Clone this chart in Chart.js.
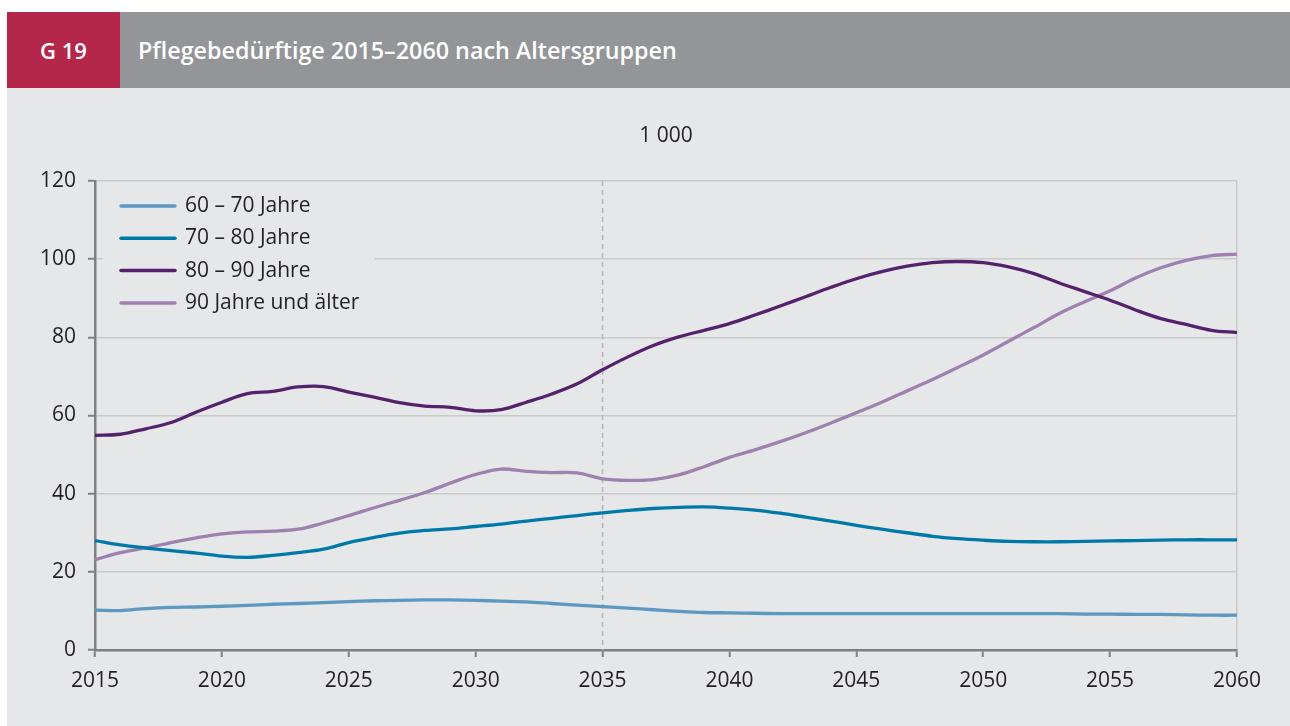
<!DOCTYPE html>
<html>
<head>
<meta charset="utf-8">
<script src="https://cdn.jsdelivr.net/npm/chart.js@4/dist/chart.umd.min.js"></script>
<style>
  html, body { margin:0; padding:0; background:#ffffff; width:1290px; height:726px; overflow:hidden; font-family:"Open Sans", "Noto Sans", sans-serif; }
  #hdrNum { position:absolute; left:7px; top:12px; width:113px; height:76px; background:#b5264b; color:#fff; font-size:22px; font-weight:600; line-height:76px; text-align:center; }
  #hdrTitle { position:absolute; left:120px; top:12px; width:1170px; height:76px; background:#939598; color:#fff; font-size:23.3px; font-weight:600; line-height:76px; padding-left:18px; box-sizing:border-box; }
  #panel { position:absolute; left:7px; top:88px; width:1283px; height:638px; background:#e6e7e9; }
  canvas { display:block; }
</style>
</head>
<body>
<div id="hdrNum">G 19</div>
<div id="hdrTitle">Pflegebedürftige 2015–2060 nach Altersgruppen</div>
<div id="panel"><canvas id="c" width="1283" height="638"></canvas></div>
<script>
// ---- data ----
const years = [2015,2016,2017,2018,2019,2020,2021,2022,2023,2024,2025,2026,2027,2028,2029,2030,2031,2032,2033,2034,2035,2036,2037,2038,2039,2040,2041,2042,2043,2044,2045,2046,2047,2048,2049,2050,2051,2052,2053,2054,2055,2056,2057,2058,2059,2060];
const age60to70 = [10.2,10.1,10.6,10.9,11.0,11.2,11.4,11.7,11.9,12.1,12.4,12.6,12.7,12.8,12.8,12.7,12.5,12.3,11.9,11.5,11.1,10.7,10.3,9.9,9.6,9.5,9.4,9.3,9.3,9.3,9.3,9.3,9.3,9.3,9.3,9.3,9.3,9.3,9.3,9.2,9.2,9.1,9.1,9.0,8.9,8.9];
const age70to80 = [28.0,26.9,26.1,25.4,24.8,24.0,23.7,24.2,24.9,25.8,27.5,28.8,29.9,30.6,31.0,31.6,32.2,33.0,33.7,34.4,35.1,35.7,36.2,36.5,36.6,36.3,35.8,35.0,34.0,33.0,31.9,30.9,30.0,29.1,28.5,28.1,27.8,27.7,27.7,27.8,27.9,28.0,28.1,28.2,28.2,28.2];
const age80to90 = [54.9,55.2,56.6,58.2,60.9,63.4,65.6,66.2,67.3,67.4,66.0,64.7,63.3,62.4,62.1,61.2,61.5,63.4,65.5,68.1,71.7,75.0,77.9,80.1,81.8,83.5,85.7,88.0,90.4,92.8,95.0,96.8,98.2,99.1,99.4,99.1,98.0,96.3,93.9,91.7,89.5,87.0,84.8,83.3,81.8,81.2];
const age90plus = [23.1,24.9,26.1,27.5,28.7,29.7,30.2,30.4,30.9,32.5,34.4,36.4,38.3,40.3,42.7,44.9,46.3,45.7,45.4,45.3,43.8,43.4,43.6,44.8,46.9,49.3,51.2,53.3,55.6,58.1,60.7,63.4,66.3,69.2,72.3,75.5,79.0,82.5,86.1,89.1,91.9,95.2,97.8,99.7,100.9,101.3];
const seriesNames = ["60 – 70 Jahre","70 – 80 Jahre","80 – 90 Jahre","90 Jahre und älter"];
const seriesColors = ["#5b98c2","#0079a9","#55206c","#9e80b1"];
const unitLabel = "1 000";
const markerYear = 2035;
const xTicks = [2015,2020,2025,2030,2035,2040,2045,2050,2055,2060];
const yTicks = [0,20,40,60,80,100,120];

const allSeries = [age60to70, age70to80, age80to90, age90plus];
const FONT = '"Open Sans", "Noto Sans", sans-serif';
const TEXT = '#231f20';

const datasets = allSeries.map((vals, i) => ({
  label: seriesNames[i],
  data: years.map((y, k) => ({x: y, y: vals[k]})),
  borderColor: seriesColors[i],
  backgroundColor: seriesColors[i],
  borderWidth: 3.3,
  pointRadius: 0,
  tension: 0.35,
  fill: false
}));

const overlay = {
  id: 'overlay',
  beforeDatasetsDraw(chart) {
    const {ctx, chartArea, scales} = chart;
    const x = scales.x.getPixelForValue(markerYear);
    ctx.save();
    ctx.strokeStyle = '#b4b5b8';
    ctx.lineWidth = 1.5;
    ctx.setLineDash([5, 4]);
    ctx.beginPath();
    ctx.moveTo(x, chartArea.top);
    ctx.lineTo(x, chartArea.bottom);
    ctx.stroke();
    ctx.restore();
  },
  afterDraw(chart) {
    const {ctx, chartArea} = chart;
    ctx.save();
    // unit label
    ctx.fillStyle = TEXT;
    ctx.font = '21px ' + FONT;
    ctx.textAlign = 'center';
    ctx.textBaseline = 'middle';
    ctx.fillText(unitLabel, (chartArea.left + chartArea.right) / 2, chartArea.top - 45);
    // legend
    const lx = chartArea.left + 8, ly = chartArea.top + 6;
    ctx.fillStyle = '#e6e7e9';
    ctx.fillRect(lx, ly, 272, 134);
    const sx = chartArea.left + 26, rowY0 = chartArea.top + 25, gap = 32.3;
    seriesNames.forEach((name, i) => {
      const y = rowY0 + i * gap;
      ctx.strokeStyle = seriesColors[i];
      ctx.lineWidth = 3.5;
      ctx.lineCap = 'round';
      ctx.beginPath();
      ctx.moveTo(sx, y);
      ctx.lineTo(sx + 54, y);
      ctx.stroke();
      ctx.fillStyle = TEXT;
      ctx.textAlign = 'left';
      ctx.textBaseline = 'middle';
      ctx.font = '21px ' + FONT;
      ctx.fillText(name, sx + 64, y);
    });
    ctx.restore();
  }
};

new Chart(document.getElementById('c'), {
  type: 'line',
  data: { datasets },
  options: {
    responsive: false,
    animation: false,
    events: [],
    layout: { padding: { left: 0, top: 93, right: 53, bottom: 0 } },
    plugins: { legend: { display: false }, tooltip: { enabled: false } },
    scales: {
      x: {
        type: 'linear',
        min: 2015, max: 2060,
        afterBuildTicks: s => { s.ticks = xTicks.map(v => ({value: v})); },
        afterFit: s => { s.height = 76; },
        ticks: { color: TEXT, font: { family: FONT, size: 21 }, padding: 11, maxRotation: 0, callback: v => String(v) },
        grid: {
          drawOnChartArea: true,
          color: c => (c.tick && c.tick.value === 2060) ? '#c9cacc' : 'rgba(0,0,0,0)',
          tickColor: '#7f7f81',
          tickLength: 7,
          lineWidth: 1.5,
          tickWidth: 2
        },
        border: { color: '#7f7f81', width: 2.5 }
      },
      y: {
        min: 0, max: 120,
        afterBuildTicks: s => { s.ticks = yTicks.map(v => ({value: v})); },
        afterFit: s => { s.width = 88; },
        ticks: { color: TEXT, font: { family: FONT, size: 21 }, padding: 12 },
        grid: {
          color: '#c9cacc',
          lineWidth: 1.5,
          tickColor: '#7f7f81',
          tickLength: 7,
          tickWidth: 2
        },
        border: { color: '#7f7f81', width: 2.5 }
      }
    }
  },
  plugins: [overlay]
});
</script>
</body>
</html>
